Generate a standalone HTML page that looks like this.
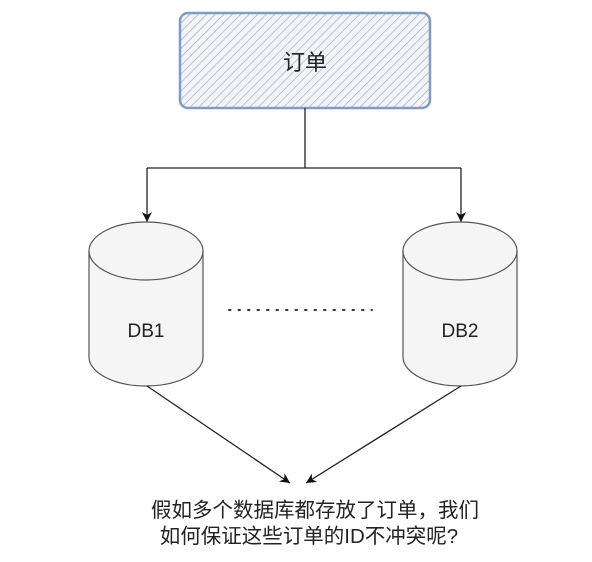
<!DOCTYPE html>
<html><head><meta charset="utf-8"><style>
html,body{margin:0;padding:0;background:#fff;}
</style></head><body>
<svg width="592" height="557" xmlns="http://www.w3.org/2000/svg">
<defs>
<pattern id="h" width="6" height="6" patternUnits="userSpaceOnUse" patternTransform="rotate(45)">
<rect width="6" height="6" fill="#f2f4f8"/>
<line x1="0" y1="0" x2="0" y2="6" stroke="#9aa3b5" stroke-width="1.2"/>
</pattern>
<marker id="a" markerWidth="12" markerHeight="12" refX="10" refY="5" orient="auto" markerUnits="userSpaceOnUse">
<path d="M0,0 L10,5 L0,10 L3,5 Z" fill="#111"/>
</marker>
</defs>
<rect x="180" y="13" width="250" height="95" rx="8" fill="url(#h)" stroke="#7f9bc6" stroke-width="2.5"/>
<text x="305" y="70" font-family="Liberation Sans, Noto Sans CJK SC, sans-serif" font-size="22" text-anchor="middle" fill="#222">订单</text>
<path d="M305,108 V168 M147,168 H461" stroke="#222" stroke-width="1.3" fill="none"/>
<path d="M147,168 V222" stroke="#222" stroke-width="1.3" fill="none" marker-end="url(#a)"/>
<path d="M461,168 V222" stroke="#222" stroke-width="1.3" fill="none" marker-end="url(#a)"/>
<g fill="#f5f5f5" stroke="#555" stroke-width="1.2">
<path d="M89,251 A57,29 0 0 1 203,251 V357 A57,29 0 0 1 89,357 Z"/>
<path d="M89,251 A57,29 0 0 0 203,251" fill="none"/>
<path d="M403,251 A57,29 0 0 1 517,251 V357 A57,29 0 0 1 403,357 Z"/>
<path d="M403,251 A57,29 0 0 0 517,251" fill="none"/>
</g>
<text x="146" y="337" font-family="Liberation Sans, sans-serif" font-size="19" text-anchor="middle" fill="#222">DB1</text>
<text x="460" y="337" font-family="Liberation Sans, sans-serif" font-size="19" text-anchor="middle" fill="#222">DB2</text>
<line x1="229" y1="310" x2="372" y2="310" stroke="#333" stroke-width="2" stroke-dasharray="1.5,8" stroke-linecap="round"/>
<path d="M147,386 L290,483" stroke="#222" stroke-width="1.3" fill="none" marker-end="url(#a)"/>
<path d="M461,386 L306,483" stroke="#222" stroke-width="1.3" fill="none" marker-end="url(#a)"/>
<text x="315" y="517" font-family="Liberation Sans, Noto Sans CJK SC, sans-serif" font-size="20.5" text-anchor="middle" fill="#222">假如多个数据库都存放了订单，我们</text>
<text x="309" y="543" font-family="Liberation Sans, Noto Sans CJK SC, sans-serif" font-size="20.5" text-anchor="middle" fill="#222">如何保证这些订单的ID不冲突呢?</text>
</svg>
</body></html>
